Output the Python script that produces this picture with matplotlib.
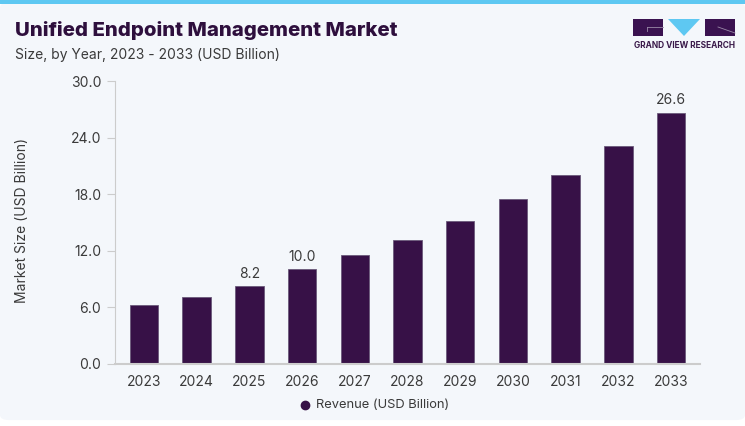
import matplotlib.pyplot as plt
from matplotlib.patches import FancyBboxPatch, Rectangle, Polygon

years = ["2023", "2024", "2025", "2026", "2027", "2028", "2029", "2030", "2031", "2032", "2033"]
revenue = [6.2, 7.05, 8.2, 10.0, 11.5, 13.1, 15.15, 17.45, 20.05, 23.05, 26.6]
labelled = {"2025": "8.2", "2026": "10.0", "2033": "26.6"}
yticks = [0, 6, 12, 18, 24, 30]

bar_color = "#371147"
text_color = "#3a3a3a"
bg_color = "#f4f7fb"

plt.rcParams['font.family'] = ['Inter', 'DejaVu Sans']

W, H = 745, 426
fig = plt.figure(figsize=(W / 100, H / 100), dpi=100)
fig.patch.set_facecolor("white")


def fx(px):
    return px / W


def fy(py):
    return 1 - py / H


# card background + top cyan strip
fig.patches.append(FancyBboxPatch((0, 0.014), 1.0, 0.98, boxstyle="round,pad=0,rounding_size=0.012",
                                  transform=fig.transFigure, facecolor=bg_color, edgecolor="none", zorder=-2))
fig.patches.append(Rectangle((0, 1 - 4 / H), 1, 4 / H, transform=fig.transFigure,
                             facecolor="#5ec8f2", edgecolor="none", zorder=-1))

# titles
fig.text(fx(15), fy(31), "Unified Endpoint Management Market", fontsize=14.7, fontweight="heavy",
         color="#2e0f3d", va="center", ha="left")
fig.text(fx(15), fy(55), "Size, by Year, 2023 - 2033 (USD Billion)", fontsize=10,
         color=text_color, va="center", ha="left")

# logo
logo_purple = "#3a1250"
fig.patches.append(Rectangle((fx(633), fy(36)), fx(30), 17 / H, transform=fig.transFigure,
                             facecolor=logo_purple, edgecolor="none"))
fig.patches.append(Rectangle((fx(705), fy(36)), fx(30), 17 / H, transform=fig.transFigure,
                             facecolor=logo_purple, edgecolor="none"))
fig.patches.append(Polygon([(fx(668), fy(19)), (fx(700), fy(19)), (fx(684), fy(36))], closed=True,
                           transform=fig.transFigure, facecolor="#5ec8f2", edgecolor="none"))
fig.lines.append(plt.Line2D([fx(647), fx(663)], [fy(27), fy(27)], color="#9a8aa8", lw=0.6,
                            transform=fig.transFigure))
fig.lines.append(plt.Line2D([fx(647), fx(647)], [fy(27), fy(31)], color="#9a8aa8", lw=0.6,
                            transform=fig.transFigure))
fig.lines.append(plt.Line2D([fx(718), fx(735)], [fy(27), fy(33)], color="#9a8aa8", lw=0.6,
                            transform=fig.transFigure))
fig.text(fx(684.5), fy(46), "GRAND VIEW RESEARCH", fontsize=6.0, fontweight="bold", color="#3a1a4a",
         ha="center", va="center")

# main axes
ax = fig.add_axes([fx(115), fy(363.7), (700 - 115) / W, (363.7 - 81) / H])
ax.set_facecolor("none")
x = range(len(years))
ax.bar(x, revenue, width=0.54, color=bar_color, edgecolor="#6b5a7a", linewidth=0.6, zorder=2)

for i, (yr, v) in enumerate(zip(years, revenue)):
    if yr in labelled:
        ax.text(i, v + 0.6, labelled[yr], ha="center", va="bottom", fontsize=10, color=text_color)

ax.set_xlim(-0.55, len(years) - 0.45)
ax.set_ylim(0, 30)
ax.set_yticks(yticks)
ax.set_yticklabels([f"{t:.1f}" for t in yticks])
ax.set_xticks(list(x))
ax.set_xticklabels(years)
ax.tick_params(axis="x", length=0, pad=8, labelsize=10, labelcolor=text_color)
ax.tick_params(axis="y", length=6, width=0.8, color="#cccccc", pad=4, labelsize=10, labelcolor=text_color)
for s in ["top", "right"]:
    ax.spines[s].set_visible(False)
ax.spines["left"].set_color("#cccccc")
ax.spines["bottom"].set_color("#cccccc")
ax.spines["bottom"].set_linewidth(1.5)

fig.text(fx(22), fy(220), "Market Size (USD Billion)", rotation=90, fontsize=10,
         color=text_color, ha="center", va="center")

# legend
fig.lines.append(plt.Line2D([fx(305)], [fy(405)], marker="o", markersize=6, color=bar_color,
                            linestyle="none", transform=fig.transFigure))
fig.text(fx(316), fy(405), "Revenue (USD Billion)", fontsize=9.3, color=text_color, ha="left", va="center")

fig.savefig("out.png", dpi=100, facecolor=fig.get_facecolor())
